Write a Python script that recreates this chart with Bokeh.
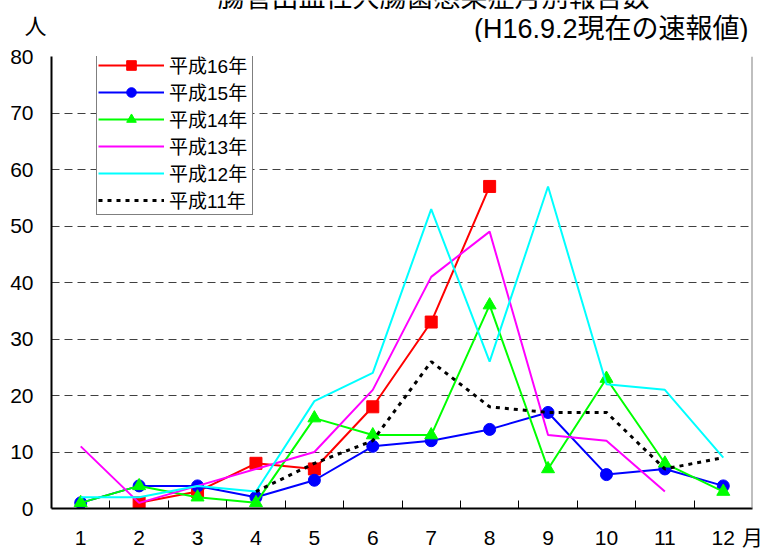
from bokeh.plotting import figure
from bokeh.layouts import column
from bokeh.models import Range1d, FixedTicker, Label, Span
from bokeh.embed import file_html
from bokeh.resources import INLINE

nan = float("nan")

months = [1, 2, 3, 4, 5, 6, 7, 8, 9, 10, 11, 12]
month_labels = ["1", "2", "3", "4", "5", "6", "7", "8", "9", "10", "11", "12"]
h16 = [nan, 1, 3, 8, 7, 18, 33, 57, nan, nan, nan, nan]
h15 = [1, 4, 4, 2, 5, 11, 12, 14, 17, 6, 7, 4]
h14 = [1, 4, 2, 1, 16, 13, 13, 36, 7, 23, 8, 3]
h13 = [11, 1, 4, 7, 10, 21, 41, 49, 13, 12, 3, nan]
h12 = [2, 2, 4, 3, 19, 24, 53, 26, 57, 22, 21, 9]
h11 = [nan, nan, nan, 3, 8, 12, 26, 18, 17, 17, 7, 9]
y_ticks = [0, 10, 20, 30, 40, 50, 60, 70, 80]

title_text = "腸管出血性大腸菌感染症月別報告数"
subtitle_text = "(H16.9.2現在の速報値)"
y_unit = "人"
x_unit = "月"

FONT = "'Liberation Sans', 'Noto Sans CJK JP', sans-serif"

W = 765
HEAD_H = 42
H = 551 - HEAD_H
BL, BR, BT, BB = 51, 13, 56 - HEAD_H, 42

def no_align(fig):
    if "frame_align" in fig.properties():
        fig.frame_align = False

# ---- header strip with the titles (canvas-pixel data space) ----
head = figure(width=W, height=HEAD_H, x_range=Range1d(0, W), y_range=Range1d(HEAD_H, 0),
              output_backend="svg", toolbar_location=None, x_axis_type=None, y_axis_type=None,
              min_border=0, min_border_left=0, min_border_right=0, min_border_top=0, min_border_bottom=0)
no_align(head)
head.outline_line_color = None
head.xgrid.visible = False
head.ygrid.visible = False
head.background_fill_color = "white"
head.border_fill_color = "white"
head.add_layout(Label(x=433, y=-3, text=title_text, text_align="center",
                      text_baseline="middle", text_font=FONT, text_font_size="27px", text_color="black"))
head.add_layout(Label(x=748, y=28, text=subtitle_text, text_align="right",
                      text_baseline="middle", text_font=FONT, text_font_size="27px", text_color="black"))
head.add_layout(Label(x=35, y=26, text=y_unit, text_align="center",
                      text_baseline="middle", text_font=FONT, text_font_size="22px", text_color="black"))

# ---- main chart ----
p = figure(width=W, height=H, x_range=Range1d(0.5, 12.5), y_range=Range1d(0, 80),
           output_backend="svg", toolbar_location=None,
           min_border_left=BL, min_border_right=BR, min_border_top=BT, min_border_bottom=BB)
no_align(p)
p.outline_line_color = None
p.background_fill_color = "white"
p.border_fill_color = "white"

p.xgrid.grid_line_color = None
p.ygrid.ticker = FixedTicker(ticks=y_ticks)
p.ygrid.grid_line_color = "#404040"
p.ygrid.grid_line_dash = "8 5"
p.ygrid.grid_line_width = 1

xa = p.xaxis[0]
xa.ticker = FixedTicker(ticks=months + [12.5], minor_ticks=[m + 0.5 for m in months[:-1]])
overrides = {m: l for m, l in zip(months, month_labels)}
overrides[12.5] = x_unit
xa.major_label_overrides = overrides
xa.major_tick_line_color = None
xa.major_tick_in = 0
xa.major_tick_out = 0
xa.minor_tick_in = 8
xa.minor_tick_out = 0
xa.minor_tick_line_color = "black"
xa.minor_tick_line_width = 1
xa.axis_line_color = "black"
xa.axis_line_width = 2
xa.major_label_text_font = FONT
xa.major_label_text_font_size = "21px"
xa.major_label_text_color = "black"
xa.major_label_standoff = 17

ya = p.yaxis[0]
ya.ticker = FixedTicker(ticks=y_ticks)
ya.major_tick_line_color = None
ya.major_tick_in = 0
ya.major_tick_out = 0
ya.minor_tick_line_color = None
ya.axis_line_color = "black"
ya.axis_line_width = 2
ya.major_label_text_font = FONT
ya.major_label_text_font_size = "21px"
ya.major_label_text_color = "black"
ya.major_label_standoff = 18

p.add_layout(Span(location=12.5, dimension="height", line_color="#808080", line_width=2))

# series
p.line(months, h16, line_color="#FF0000", line_width=2, legend_label="平成16年")
p.scatter(months, h16, marker="square", size=12, fill_color="#FF0000", line_color="#FF0000", legend_label="平成16年")
p.line(months, h15, line_color="#0000FF", line_width=2, legend_label="平成15年")
p.scatter(months, h15, marker="circle", size=12, fill_color="#0000FF", line_color="#0000FF", legend_label="平成15年")
p.line(months, h14, line_color="#00FF00", line_width=2, legend_label="平成14年")
p.scatter(months, h14, marker="triangle", size=13, fill_color="#00FF00", line_color="#00FF00", legend_label="平成14年")
p.line(months, h13, line_color="#FF00FF", line_width=2, legend_label="平成13年")
p.line(months, h12, line_color="#00FFFF", line_width=2, legend_label="平成12年")
p.line(months, h11, line_color="black", line_width=3, line_dash="4 5", legend_label="平成11年")

lg = p.legend[0]
lg.location = (45, 293)
lg.border_line_color = "black"
lg.border_line_width = 1
lg.background_fill_color = "white"
lg.background_fill_alpha = 1
lg.label_text_font = FONT
lg.label_text_font_size = "19px"
lg.label_text_color = "black"
lg.glyph_width = 66
lg.glyph_height = 24
lg.label_height = 20
lg.label_width = 82
lg.spacing = 0
lg.padding = 1
lg.label_standoff = 5
lg.margin = 0

layout = column(head, p, spacing=0)
open("out.html", "w").write(file_html(layout, INLINE))
